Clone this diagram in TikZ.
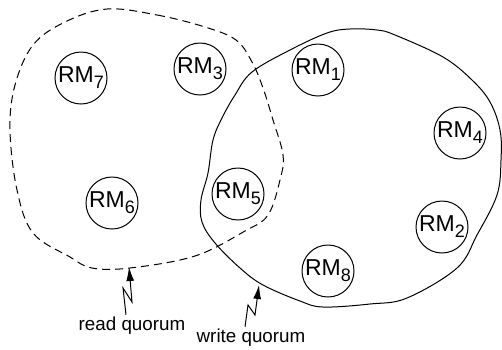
\documentclass[tikz,border=0pt]{standalone}
\usepackage{fontspec}
\setmainfont{Liberation Sans}
\usetikzlibrary{arrows.meta}

% replica manager name with lowered index
\newcommand{\rmsub}[1]{RM\raisebox{-3pt}{\fontsize{9pt}{10pt}\selectfont #1}}

\begin{document}
\begin{tikzpicture}[x=0.5pt, y=-0.5pt, line width=0.5pt,
    rmnode/.style={draw, circle, minimum size=26pt, inner sep=0pt, font=\fontsize{11.5pt}{13pt}\selectfont},
    quorumlabel/.style={inner sep=1pt, font=\fontsize{9.4pt}{11pt}\selectfont},
    bolt/.style={-{Latex[length=7pt,width=4pt]}}]
	\useasboundingbox (0,0) rectangle (502,349);
	
	% 1. read quorum (dashed outline)
	\draw[dash pattern=on 4pt off 2.5pt] plot[smooth cycle, tension=0.6] coordinates {
		(107,9) (157,15) (205,27) (236,40) (252,62) (263,88) (273,120) (283,155)
		(280,180) (268,215) (245,231) (195,256) (130,268) (92,268) (70,257)
		(33,233) (17,190) (10,130) (15,85) (33,45) (65,22)};
	
	% 2. write quorum (solid outline)
	\draw plot[smooth cycle, tension=0.6] coordinates {
		(208,173) (213,140) (222,118) (235,95) (252,72) (290,50) (327,33) (350,29)
		(377,30) (395,35) (443,57) (472,80) (490,102) (500,130) (501,160) (497,195)
		(477,235) (457,268) (407,298) (370,304) (323,307) (300,301) (263,285)
		(240,268) (215,243) (202,222) (201,200)};
	
	% 3. replica managers
	\node[rmnode] (rm7) at (81,78)   {\rmsub{7}};
	\node[rmnode] (rm3) at (200,69)  {\rmsub{3}};
	\node[rmnode] (rm1) at (318,70)  {\rmsub{1}};
	\node[rmnode] (rm4) at (460,133) {\rmsub{4}};
	\node[rmnode] (rm6) at (112,203) {\rmsub{6}};
	\node[rmnode] (rm5) at (238,194) {\rmsub{5}};
	\node[rmnode] (rm2) at (442,227) {\rmsub{2}};
	\node[rmnode] (rm8) at (328,271) {\rmsub{8}};
	
	% 4. labels with zigzag arrows
	\node[quorumlabel] (readq)  at (132,326) {read quorum};
	\node[quorumlabel] (writeq) at (251,338) {write quorum};
	\coordinate (readtip)  at (129,267);
	\coordinate (writetip) at (259,285);
	\draw[bolt] ([xshift=-3pt]readq.north) -- (123,288) -- (132,302) -- (readtip);
	\draw[bolt] ([xshift=-3pt]writeq.north) -- (248,305) -- (255,315) -- (writetip);
	
\end{tikzpicture}
\end{document}
